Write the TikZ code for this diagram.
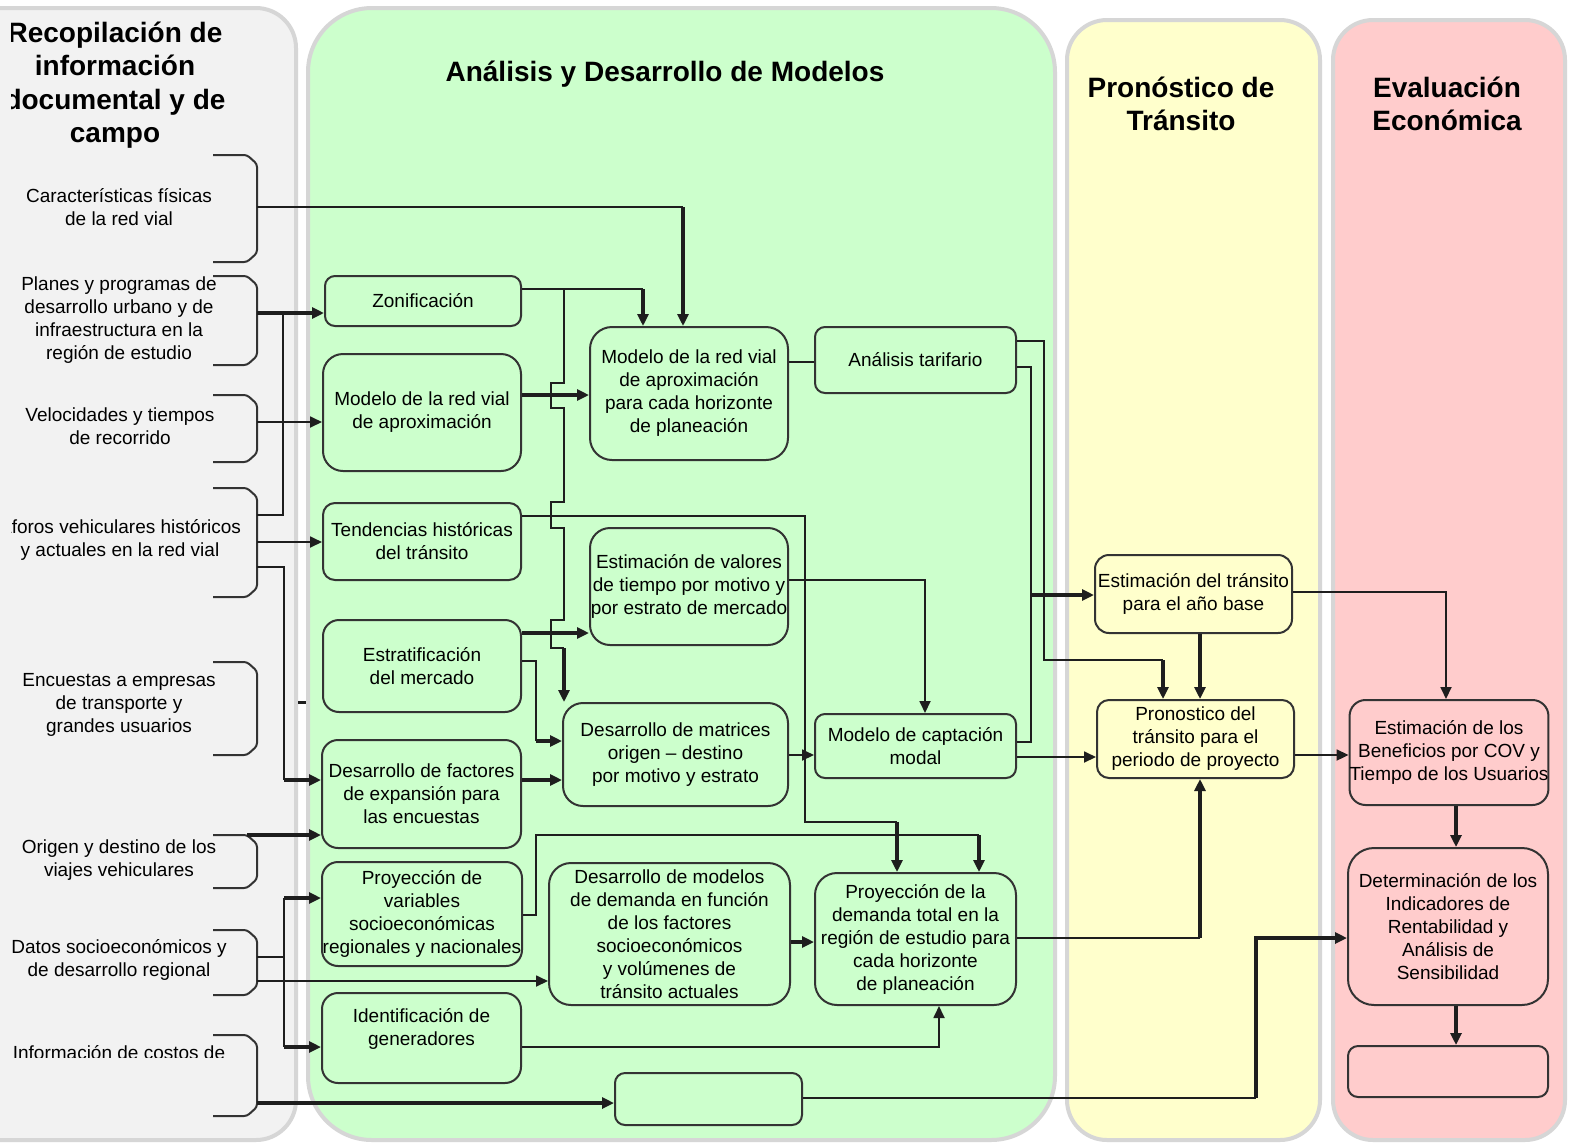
\documentclass[tikz,border=0pt]{standalone}
\usepackage{fontspec}
\setmainfont{Liberation Sans}
\usetikzlibrary{arrows.meta}
\definecolor{laneG}{HTML}{CCFFCC}
\definecolor{laneY}{HTML}{FFFFCC}
\definecolor{laneR}{HTML}{FFCCCC}
\definecolor{laneL}{HTML}{F2F2F2}
\definecolor{edgec}{HTML}{D6D6D6}
\definecolor{ink}{HTML}{1E1E1E}
\definecolor{boxline}{HTML}{333333}
\newcommand\mybracket[2]{\draw[brkline] (213,#1) -- (247,#1) -- (257,#1+9) -- (257,#2-9) -- (247,#2) -- (213,#2);}
\begin{document}
\begin{tikzpicture}[x=0.5pt,y=-0.5pt,
  bodyf/.style={font=\fontsize{9.5}{11.5}\selectfont},
  lt/.style={bodyf,align=center,inner sep=0pt},
  ttl/.style={font=\fontsize{14}{16.75}\selectfont\bfseries,align=center,inner sep=0pt},
  box/.style={draw=boxline,line width=1pt,rounded corners=5pt,align=center,inner sep=0pt,bodyf},
  gbox/.style={box,fill=laneG},
  ybox/.style={box,fill=laneY},
  rbox/.style={box,fill=laneR},
  lane/.style={draw=edgec,line width=2pt},
  brkline/.style={draw=boxline,line width=1pt,rounded corners=1.5pt},
  ln/.style={draw=ink,line width=0.9pt},
  tk/.style={draw=ink,line width=1.8pt},
  arr/.style={-{Triangle[length=6pt,width=5.5pt]}}]
\useasboundingbox (0,0) rectangle (1575,1147);
\fill[white] (0,0) rectangle (1575,1147);
% lanes
\draw[lane,fill=laneL,rounded corners=20pt] (-80,8) rectangle (296,1140);
\draw[lane,fill=laneG,rounded corners=32pt] (308,8) rectangle (1055,1140);
\draw[lane,fill=laneY,rounded corners=20pt] (1067,20) rectangle (1320,1140);
\draw[lane,fill=laneR,rounded corners=20pt] (1333,20) rectangle (1565,1140);
% titles
\node[ttl] (tG) at (665,74) {Análisis y Desarrollo de Modelos};
\node[ttl] (tY) at (1181,104) {Pronóstico de\\Tránsito};
\node[ttl] (tR) at (1447,104) {Evaluación\\Económica};
% left column (clipped as in the picture)
\begin{scope}
\clip (11.5,0) rectangle (300,1057);
\node[ttl] (tL) at (115,85) {Recopilación de\\información\\documental y de\\campo};
\node[lt] (car) at (119,207) {Características físicas\\de la red vial};
\node[lt] (pla) at (119,320) {Planes y programas de\\desarrollo urbano y de\\infraestructura en la\\región de estudio};
\node[lt] (vel) at (120,426) {Velocidades y tiempos\\de recorrido};
\node[lt] (afo) at (120,540) {Aforos vehiculares históricos\\y actuales en la red vial};
\node[lt] (enc) at (119,705) {Encuestas a empresas\\de transporte y\\grandes usuarios};
\node[lt] (ori) at (119,860) {Origen y destino de los\\viajes vehiculares};
\node[lt] (dat) at (119,960) {Datos socioeconómicos y\\de desarrollo regional};
\node[bodyf,inner sep=0pt,anchor=base] (inf) at (119,1059) {Información de costos de};
\end{scope}
% brackets
\mybracket{155}{262}
\mybracket{276}{365}
\mybracket{395}{462}
\mybracket{488}{597}
\mybracket{662}{755}
\mybracket{835}{888}
\mybracket{930}{995}
\mybracket{1035}{1116}
\draw[ink,line width=1.5pt] (298,702) -- (306,702);
% boxes: green lane
\node[gbox,minimum width=98pt,minimum height=25pt] (zon) at (423,301) {Zonificación};
\node[gbox,minimum width=99pt,minimum height=58.5pt,rounded corners=10pt] (mrva) at (422,412.5) {Modelo de la red vial\\de aproximación};
\node[gbox,minimum width=99pt,minimum height=38.5pt,rounded corners=6pt] (tend) at (422,541.5) {Tendencias históricas\\del tránsito};
\node[gbox,minimum width=99pt,minimum height=46pt,rounded corners=8pt] (estr) at (422,666) {Estratificación\\del mercado};
\node[gbox,minimum width=99.5pt,minimum height=54pt,rounded corners=8pt] (fact) at (421.5,794) {Desarrollo de factores\\de expansión para\\las encuestas};
\node[gbox,minimum width=100pt,minimum height=52pt,rounded corners=8pt] (proyvar) at (422,914) {Proyección de\\variables\\socioeconómicas\\regionales y nacionales};
\node[gbox,minimum width=99.5pt,minimum height=45pt,rounded corners=8pt] (ident) at (421.5,1038) {};
\node[lt] (identt) at (421.5,1028.5) {Identificación de\\generadores};
\node[gbox,minimum width=99pt,minimum height=66.5pt,rounded corners=11pt] (mrvh) at (689,393.5) {Modelo de la red vial\\de aproximación\\para cada horizonte\\de planeación};
\node[gbox,minimum width=99pt,minimum height=58.5pt,rounded corners=10pt] (estval) at (689,586.5) {Estimación de valores\\de tiempo por motivo y\\por estrato de mercado};
\node[gbox,minimum width=112.5pt,minimum height=51.5pt,rounded corners=10pt] (matr) at (675.5,754.5) {Desarrollo de matrices\\origen – destino\\por motivo y estrato};
\node[gbox,minimum width=120.5pt,minimum height=71pt,rounded corners=11pt] (moddem) at (669.5,934) {Desarrollo de modelos\\de demanda en función\\de los factores\\socioeconómicos\\y volúmenes de\\tránsito actuales};
\node[gbox,minimum width=100.5pt,minimum height=33pt] (tarif) at (915.5,360) {Análisis tarifario};
\node[gbox,minimum width=100.5pt,minimum height=32pt] (capt) at (915.5,746) {Modelo de captación\\modal};
\node[gbox,minimum width=100.5pt,minimum height=66pt,rounded corners=11pt] (proydem) at (915.5,939) {Proyección de la\\demanda total en la\\región de estudio para\\cada horizonte\\de planeación};
\node[gbox,minimum width=93.5pt,minimum height=26pt] (empty1) at (708.5,1099) {};
% yellow lane
\node[ybox,minimum width=98.5pt,minimum height=39pt,rounded corners=7pt] (estbase) at (1193.5,594) {Estimación del tránsito\\para el año base};
\node[ybox,minimum width=98.5pt,minimum height=39pt,rounded corners=6pt] (pron) at (1195.5,739) {Pronostico del\\tránsito para el\\periodo de proyecto};
% red lane
\node[rbox,minimum width=99pt,minimum height=52.5pt,rounded corners=8pt] (benef) at (1449,752.5) {Estimación de los\\Beneficios por COV y\\Tiempo de los Usuarios};
\node[rbox,minimum width=100pt,minimum height=78.5pt,rounded corners=13pt] (determ) at (1448,926.5) {Determinación de los\\Indicadores de\\Rentabilidad y\\Análisis de\\Sensibilidad};
\node[rbox,minimum width=100pt,minimum height=25.5pt] (empty2) at (1448,1071.5) {};
% connector end points at the brackets
\coordinate (cCar) at (257,207);
\coordinate (cPla) at (257,313);
\coordinate (cVel) at (257,422);
\coordinate (cAf1) at (257,515);
\coordinate (cAf2) at (257,542);
\coordinate (cAf3) at (257,567);
\coordinate (cOri) at (247,835);
\coordinate (cDa1) at (257,957);
\coordinate (cDa2) at (257,981);
\coordinate (cInf) at (257,1103);
% left connectors
\draw[tk,arr] (cPla) -- (zon.west |- cPla);
\draw[ln] (283,313) -- (283,515) -- (cAf1);
\draw[ln,arr] (cVel) -- (mrva.west |- cVel);
\draw[ln,arr] (cAf2) -- (tend.west |- cAf2);
\draw[ln] (cAf3) -- (284,567) -- (284,780);
\draw[tk,arr] (284,780) -- (fact.west |- 0,780);
\draw[tk,arr] (cOri) -- (fact.west |- cOri);
\draw[ln] (cDa1) -- (284,957);
\draw[ln] (284,898) -- (284,1047);
\draw[tk,arr] (284,898) -- (proyvar.west |- 0,898);
\draw[tk,arr] (284,1047) -- (ident.west |- 0,1047);
\draw[ln,arr] (cDa2) -- (moddem.west |- cDa2);
\draw[tk,arr] (cInf) -- (empty1.west |- cInf);
% middle connectors
\draw[ln] (cCar) -- (683,207);
\draw[tk,arr] (683,207) -- (683,0 |- mrvh.north);
\draw[ln] (zon.east |- 0,289) -- (643,289);
\draw[tk,arr] (643,289) -- (643,0 |- mrvh.north);
\draw[ln] (564,289) -- (564,383) -- (551,383) -- (551,408) -- (564,408) -- (564,502) -- (551,502) -- (551,528) -- (564,528) -- (564,620) -- (551,620) -- (551,648) -- (564,648);
\draw[tk,arr] (564,648) -- (564,0 |- matr.north);
\draw[tk,arr] (mrva.east |- 0,395) -- (mrvh.west |- 0,395);
\draw[ln] (mrvh.east |- 0,362) -- (tarif.west |- 0,362);
\draw[ln] (tend.east |- 0,516) -- (805,516) -- (805,822) -- (897,822);
\draw[tk,arr] (897,822) -- (897,0 |- proydem.north);
\draw[tk,arr] (estr.east |- 0,633) -- (estval.west |- 0,633);
\draw[ln] (estr.east |- 0,661) -- (536,661) -- (536,741);
\draw[tk,arr] (536,741) -- (matr.west |- 0,741);
\draw[tk,arr] (fact.east |- 0,780) -- (matr.west |- 0,780);
\draw[ln,arr] (matr.east |- 0,755) -- (capt.west |- 0,755);
\draw[ln,arr] (estval.east |- 0,580) -- (925,580) -- (925,0 |- capt.north);
\draw[ln] (proyvar.east |- 0,915) -- (536,915) -- (536,835) -- (979,835);
\draw[tk,arr] (979,835) -- (979,0 |- proydem.north);
\draw[tk,arr] (moddem.east |- 0,942) -- (proydem.west |- 0,942);
\draw[ln,arr] (ident.east |- 0,1047) -- (939,1047) -- (939,0 |- proydem.south);
% right connectors
\draw[ln] (tarif.east |- 0,341) -- (1044,341) -- (1044,660) -- (1163,660);
\draw[tk,arr] (1163,660) -- (1163,0 |- pron.north);
\draw[ln] (tarif.east |- 0,367) -- (1031,367) -- (1031,742) -- (capt.east |- 0,742);
\draw[tk,arr] (1031,595) -- (estbase.west |- 0,595);
\draw[ln,arr] (capt.east |- 0,757) -- (pron.west |- 0,757);
\draw[tk,arr] (1200,0 |- estbase.south) -- (1200,0 |- pron.north);
\draw[ln,arr] (estbase.east |- 0,592) -- (1446,592) -- (1446,0 |- benef.north);
\draw[ln,arr] (pron.east |- 0,755) -- (benef.west |- 0,755);
\draw[tk,arr] (1456,0 |- benef.south) -- (1456,0 |- determ.north);
\draw[tk,arr] (1456,0 |- determ.south) -- (1456,0 |- empty2.north);
\draw[ln] (proydem.east |- 0,938) -- (1200,938);
\draw[tk,arr] (1200,938) -- (1200,0 |- pron.south);
\draw[ln] (empty1.east |- 0,1098) -- (1256,1098);
\draw[tk,arr] (1256,1098) -- (1256,938) -- (determ.west |- 0,938);
\end{tikzpicture}
\end{document}
